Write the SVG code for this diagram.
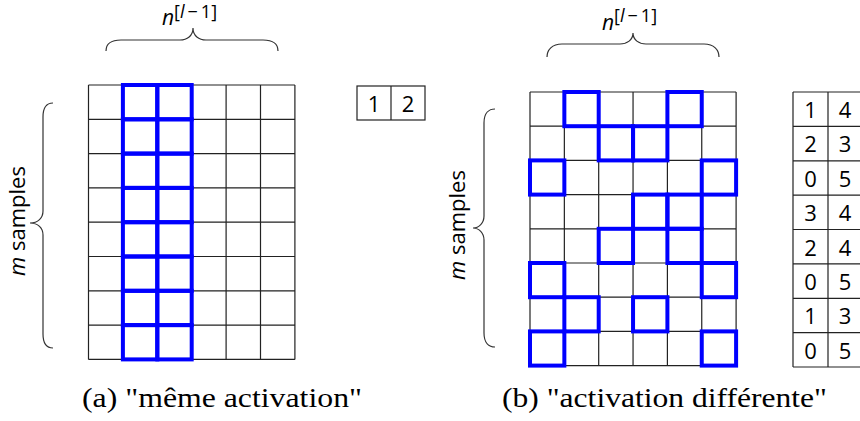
<svg xmlns="http://www.w3.org/2000/svg" width="860" height="421" viewBox="0 0 860 421">
<style>
.g{fill:none;stroke:#222;stroke-width:1.2}
.b{fill:none;stroke:#0000ff;stroke-width:4}
.br{fill:none;stroke:#333;stroke-width:1.2}
.s{font-family:"Open Sans","Liberation Sans",sans-serif;fill:#000}
.d{font-family:"Open Sans","Liberation Sans",sans-serif;font-size:22px;fill:#000;text-anchor:middle}
.cap{font-family:"Liberation Serif","DejaVu Serif",serif;font-size:27px;fill:#000}
</style>
<rect width="860" height="421" fill="#fff"/>
<g id="left-panel">
  <g id="left-grid">
    <path class="g" d="M88.5,85V359.4M122.9,85V359.4M157.3,85V359.4M191.7,85V359.4M226.1,85V359.4M260.5,85V359.4M294.9,85V359.4M88.5,85H294.9M88.5,119.3H294.9M88.5,153.6H294.9M88.5,187.9H294.9M88.5,222.2H294.9M88.5,256.5H294.9M88.5,290.8H294.9M88.5,325.1H294.9M88.5,359.4H294.9"/>
  </g>
  <g id="left-active">
    <rect class="b" x="122.9" y="85" width="34.4" height="34.3"/><rect class="b" x="157.3" y="85" width="34.4" height="34.3"/>
    <rect class="b" x="122.9" y="119.3" width="34.4" height="34.3"/><rect class="b" x="157.3" y="119.3" width="34.4" height="34.3"/>
    <rect class="b" x="122.9" y="153.6" width="34.4" height="34.3"/><rect class="b" x="157.3" y="153.6" width="34.4" height="34.3"/>
    <rect class="b" x="122.9" y="187.9" width="34.4" height="34.3"/><rect class="b" x="157.3" y="187.9" width="34.4" height="34.3"/>
    <rect class="b" x="122.9" y="222.2" width="34.4" height="34.3"/><rect class="b" x="157.3" y="222.2" width="34.4" height="34.3"/>
    <rect class="b" x="122.9" y="256.5" width="34.4" height="34.3"/><rect class="b" x="157.3" y="256.5" width="34.4" height="34.3"/>
    <rect class="b" x="122.9" y="290.8" width="34.4" height="34.3"/><rect class="b" x="157.3" y="290.8" width="34.4" height="34.3"/>
    <rect class="b" x="122.9" y="325.1" width="34.4" height="34.3"/><rect class="b" x="157.3" y="325.1" width="34.4" height="34.3"/>
  </g>
  <g id="left-top-brace">
    <path class="br" d="M106,51 C106,44 111,40 121,40 L180,40 C187,40 193,36 193,28 C193,36 199,40 206,40 L263,40 C273,40 278,44 278,51"/>
    <text class="s" x="162" y="25" font-size="21"><tspan font-style="italic">n</tspan><tspan dy="-7" font-size="18">[<tspan font-style="italic">l</tspan><tspan dx="3">−</tspan><tspan dx="3">1</tspan>]</tspan></text>
  </g>
  <g id="left-side-brace">
    <path class="br" d="M53,103 C47,103 43,107 43,117 L43,211 C43,218 38,223 30,223 C38,223 43,228 43,235 L43,334 C43,344 47,348 53,348"/>
    <text class="s" font-size="22" text-anchor="middle" transform="translate(25,221) rotate(-90)"><tspan font-style="italic">m</tspan> samples</text>
  </g>
  <g id="left-table">
    <rect class="g" x="357" y="86" width="68" height="34"/>
    <path class="g" d="M391,86V120"/>
    <text class="d" x="374" y="112">1</text>
    <text class="d" x="408" y="112">2</text>
  </g>
  <text id="caption-a" class="cap" x="82" y="407" textLength="280" lengthAdjust="spacingAndGlyphs">(a) "même activation"</text>
</g>
<g id="right-panel">
  <g id="right-grid">
    <path class="g" d="M530,92V365.6M564.35,92V365.6M598.7,92V365.6M633.05,92V365.6M667.4,92V365.6M701.75,92V365.6M736.1,92V365.6M530,92H736.1M530,126.2H736.1M530,160.4H736.1M530,194.6H736.1M530,228.8H736.1M530,263H736.1M530,297.2H736.1M530,331.4H736.1M530,365.6H736.1"/>
  </g>
  <g id="right-active">
    <rect class="b" x="564.35" y="92" width="34.35" height="34.2"/><rect class="b" x="667.4" y="92" width="34.35" height="34.2"/>
    <rect class="b" x="598.7" y="126.2" width="34.35" height="34.2"/><rect class="b" x="633.05" y="126.2" width="34.35" height="34.2"/>
    <rect class="b" x="530" y="160.4" width="34.35" height="34.2"/><rect class="b" x="701.75" y="160.4" width="34.35" height="34.2"/>
    <rect class="b" x="633.05" y="194.6" width="34.35" height="34.2"/><rect class="b" x="667.4" y="194.6" width="34.35" height="34.2"/>
    <rect class="b" x="598.7" y="228.8" width="34.35" height="34.2"/><rect class="b" x="667.4" y="228.8" width="34.35" height="34.2"/>
    <rect class="b" x="530" y="263" width="34.35" height="34.2"/><rect class="b" x="701.75" y="263" width="34.35" height="34.2"/>
    <rect class="b" x="564.35" y="297.2" width="34.35" height="34.2"/><rect class="b" x="633.05" y="297.2" width="34.35" height="34.2"/>
    <rect class="b" x="530" y="331.4" width="34.35" height="34.2"/><rect class="b" x="701.75" y="331.4" width="34.35" height="34.2"/>
  </g>
  <g id="right-top-brace">
    <path class="br" d="M547,57 C547,50 552,44 562,44 L620,44 C627,44 633,40 633,33 C633,40 639,44 646,44 L704,44 C714,44 719,50 719,57"/>
    <text class="s" x="602" y="30" font-size="21"><tspan font-style="italic">n</tspan><tspan dy="-8" font-size="18">[<tspan font-style="italic">l</tspan><tspan dx="3">−</tspan><tspan dx="3">1</tspan>]</tspan></text>
  </g>
  <g id="right-side-brace">
    <path class="br" d="M495,109 C489,109 484,113 484,123 L484,216 C484,223 479,228 473,228 C479,228 484,233 484,240 L484,333 C484,343 489,347 495,347"/>
    <text class="s" font-size="22" text-anchor="middle" transform="translate(465,225) rotate(-90)"><tspan font-style="italic">m</tspan> samples</text>
  </g>
  <g id="right-table">
    <path class="g" d="M793,92V367M828,92V367M862,92V367M793,92H862M793,126.4H862M793,160.8H862M793,195.1H862M793,229.5H862M793,263.9H862M793,298.3H862M793,332.6H862M793,367H862"/>
    <text class="d" x="810.5" y="118">1</text><text class="d" x="845" y="118">4</text>
    <text class="d" x="810.5" y="152.4">2</text><text class="d" x="845" y="152.4">3</text>
    <text class="d" x="810.5" y="186.8">0</text><text class="d" x="845" y="186.8">5</text>
    <text class="d" x="810.5" y="221.1">3</text><text class="d" x="845" y="221.1">4</text>
    <text class="d" x="810.5" y="255.5">2</text><text class="d" x="845" y="255.5">4</text>
    <text class="d" x="810.5" y="289.9">0</text><text class="d" x="845" y="289.9">5</text>
    <text class="d" x="810.5" y="324.3">1</text><text class="d" x="845" y="324.3">3</text>
    <text class="d" x="810.5" y="358.6">0</text><text class="d" x="845" y="358.6">5</text>
  </g>
  <text id="caption-b" class="cap" x="502" y="407" textLength="325" lengthAdjust="spacingAndGlyphs">(b) "activation différente"</text>
</g>
</svg>
